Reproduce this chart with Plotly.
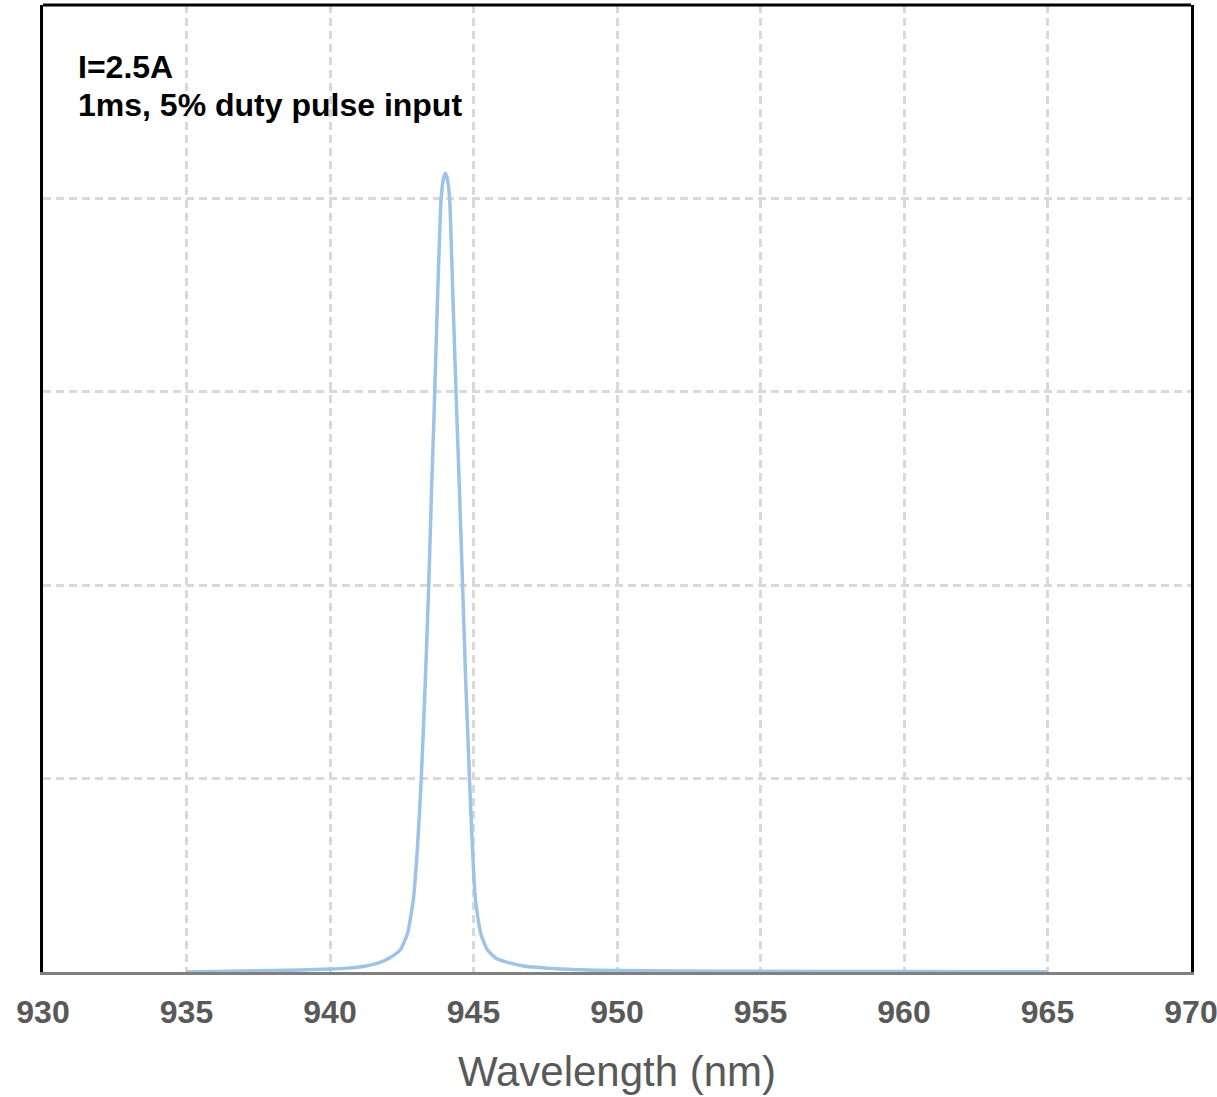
import plotly.graph_objects as go

# Spectrum (wavelength in nm, relative intensity)
wavelength = [935.0, 936.0, 937.0, 938.0, 939.0, 940.0, 940.6, 941.2, 941.75, 942.1,
              942.45, 942.7, 942.9, 943.05, 943.18, 943.32, 943.44, 943.54, 943.63, 943.75,
              943.87, 943.95, 944.02, 944.09, 944.17, 944.28, 944.40, 944.52, 944.62, 944.73,
              944.86, 944.96, 945.07, 945.25, 945.48, 945.8, 946.18, 946.8, 947.58, 948.5,
              950.0, 952.0, 955.0, 960.0, 965.0]
intensity = [0.000, 0.0005, 0.001, 0.0015, 0.002, 0.003, 0.004, 0.006, 0.010, 0.015,
             0.023, 0.040, 0.074, 0.130, 0.200, 0.300, 0.400, 0.500, 0.580, 0.700,
             0.799, 0.820, 0.826, 0.820, 0.799, 0.700, 0.592, 0.490, 0.400, 0.300,
             0.200, 0.130, 0.074, 0.040, 0.023, 0.014, 0.010, 0.006, 0.004, 0.0025,
             0.0015, 0.001, 0.0007, 0.0004, 0.0002]

x_ticks = [930, 935, 940, 945, 950, 955, 960, 965, 970]
y_grid = [0.2, 0.4, 0.6, 0.8]
note_lines = ["I=2.5A", "1ms, 5% duty pulse input"]

fig = go.Figure()
fig.add_trace(go.Scatter(
    x=wavelength, y=intensity, mode="lines",
    line=dict(color="#9DC3E6", width=3.5, shape="spline", smoothing=0.5),
    showlegend=False, hoverinfo="skip"))

fig.update_layout(
    width=1217, height=1097,
    margin=dict(l=43, r=26, t=5, b=125),
    paper_bgcolor="white", plot_bgcolor="white",
    font=dict(family="Liberation Sans, Arial, sans-serif"),
    xaxis=dict(
        range=[930, 970], tickvals=x_ticks, ticktext=[str(t) for t in x_ticks],
        showgrid=True, gridcolor="#D9D9D9", gridwidth=2.5, griddash="8px,5px",
        showline=True, linecolor="#808080", linewidth=3,
        ticks="", ticklabelstandoff=10, ticklabeloverflow="allow",
        tickfont=dict(size=32, color="#595959", family="Liberation Sans, Arial, sans-serif", weight="bold"),
        title=dict(text="Wavelength (nm)", font=dict(size=42, color="#595959"), standoff=28),
        zeroline=False, automargin=False,
    ),
    yaxis=dict(
        range=[0, 1.0], tickvals=y_grid, showticklabels=False,
        showgrid=True, gridcolor="#D9D9D9", gridwidth=2.5, griddash="8px,5px",
        showline=True, linecolor="black", linewidth=3, mirror=True,
        ticks="", zeroline=False,
    ),
)

# top border in black
fig.add_shape(type="line", xref="paper", yref="paper", x0=0, x1=1, y0=1, y1=1,
              line=dict(color="black", width=3))

for i, txt in enumerate(note_lines):
    fig.add_annotation(
        xref="paper", yref="paper", x=0.0285, y=1 - (62 + 38 * i) / 967,
        xanchor="left", yanchor="middle", showarrow=False, align="left",
        text=f"<b>{txt}</b>", font=dict(size=32, color="black"))

fig.write_html("out.html")
